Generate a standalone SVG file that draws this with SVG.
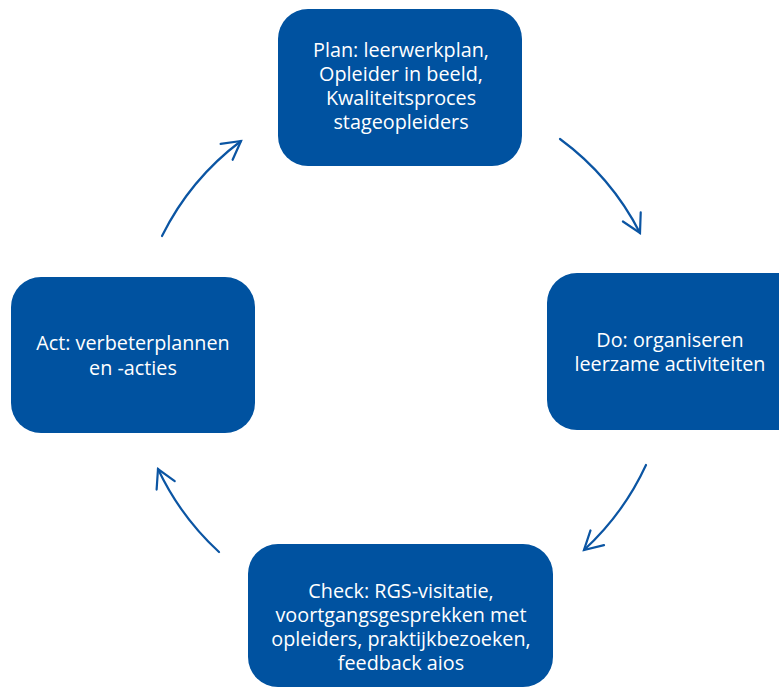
<svg xmlns="http://www.w3.org/2000/svg" width="779" height="697" viewBox="0 0 779 697">
  <style>
    .box { fill: #0052A0; }
    .label { fill: #FFFFFF; font-family: "Open Sans", "Noto Sans", "Liberation Sans", sans-serif; font-size: 19.8px; text-anchor: middle; }
    .flow { fill: none; stroke: #0B55A3; stroke-width: 2.2; stroke-linecap: round; }
  </style>
  <defs>
    <marker id="chevron" markerUnits="userSpaceOnUse" viewBox="-25 -15 30 30" markerWidth="30" markerHeight="30" refX="0" refY="0" orient="auto">
      <path d="M-18,-10 L0,0 L-18,10" fill="none" stroke="#0B55A3" stroke-width="2.2" stroke-linecap="round" stroke-linejoin="miter"/>
    </marker>
  </defs>
  <rect width="779" height="697" fill="#FFFFFF"/>

  <!-- cycle connectors: arcs around a common centre -->
  <g id="connectors">
    <path class="flow" d="M560,139 A268,268 0 0 1 640,233" marker-end="url(#chevron)"/>
    <path class="flow" d="M646,465 A268,268 0 0 1 584,550" marker-end="url(#chevron)"/>
    <path class="flow" d="M219,552 A268,268 0 0 1 158,469" marker-end="url(#chevron)"/>
    <path class="flow" d="M162,236 A268,268 0 0 1 241,141" marker-end="url(#chevron)"/>
  </g>

  <g id="plan">
    <rect class="box" x="278" y="9" width="244" height="157" rx="30"/>
    <text class="label" x="401" y="57">Plan: leerwerkplan,</text>
    <text class="label" x="401" y="81">Opleider in beeld,</text>
    <text class="label" x="401" y="105">Kwaliteitsproces</text>
    <text class="label" x="401" y="129">stageopleiders</text>
  </g>

  <g id="do">
    <rect class="box" x="547" y="273" width="260" height="157" rx="30"/>
    <text class="label" x="670" y="347">Do: organiseren</text>
    <text class="label" x="670" y="371">leerzame activiteiten</text>
  </g>

  <g id="check">
    <rect class="box" x="248" y="544" width="305" height="143" rx="30"/>
    <text class="label" x="401" y="598">Check: RGS-visitatie,</text>
    <text class="label" x="401" y="622">voortgangsgesprekken met</text>
    <text class="label" x="401" y="646">opleiders, praktijkbezoeken,</text>
    <text class="label" x="401" y="670">feedback aios</text>
  </g>

  <g id="act">
    <rect class="box" x="11" y="277" width="244" height="156" rx="30"/>
    <text class="label" x="133" y="350">Act: verbeterplannen</text>
    <text class="label" x="133" y="375">en -acties</text>
  </g>
</svg>
